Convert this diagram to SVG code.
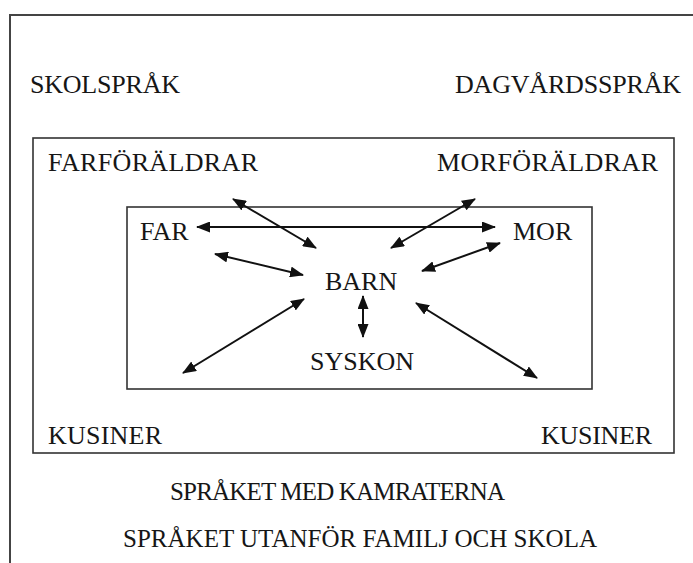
<svg xmlns="http://www.w3.org/2000/svg" width="693" height="563" viewBox="0 0 693 563">
<style>
text{font-family:"Liberation Serif","Times New Roman",serif;font-size:26px;fill:#161616}
.sm{font-size:25px}
.frame{fill:none;stroke:#444;stroke-width:2}
.box{fill:none;stroke:#333;stroke-width:1.6}
.arr{stroke:#111;stroke-width:2;fill:none;marker-start:url(#ah);marker-end:url(#ah)}
</style>
<defs>
<marker id="ah" viewBox="0 0 14 11" refX="13" refY="5.5" markerWidth="14" markerHeight="11" markerUnits="userSpaceOnUse" orient="auto-start-reverse">
<path d="M0,0 L14,5.5 L0,11 Z" fill="#111"/>
</marker>
</defs>
<rect width="693" height="563" fill="#fff"/>
<g id="frame">
<path class="frame" d="M10,563 V15 H693"/>
</g>
<g id="skolsprak"><text x="30" y="93" textLength="150">SKOLSPRÅK</text></g>
<g id="dagvardssprak"><text x="455" y="93" textLength="226">DAGVÅRDSSPRÅK</text></g>
<g id="family-box"><rect class="box" x="33" y="138" width="641" height="315"/></g>
<g id="farforaldrar"><text x="48" y="171" textLength="210">FARFÖRÄLDRAR</text></g>
<g id="morforaldrar"><text x="437" y="171" textLength="221">MORFÖRÄLDRAR</text></g>
<g id="core-box"><rect class="box" x="127" y="207" width="465" height="182"/></g>
<g id="far"><text x="140" y="240">FAR</text></g>
<g id="mor"><text x="513" y="240">MOR</text></g>
<g id="barn"><text x="325" y="290">BARN</text></g>
<g id="syskon"><text x="310" y="370">SYSKON</text></g>
<g id="kusiner-left"><text x="48" y="444" textLength="114">KUSINER</text></g>
<g id="kusiner-right"><text x="541" y="444" textLength="111">KUSINER</text></g>
<g id="kamrater"><text class="sm" x="170" y="500" textLength="335">SPRÅKET MED KAMRATERNA</text></g>
<g id="utanfor"><text class="sm" x="123" y="547" textLength="474">SPRÅKET UTANFÖR FAMILJ OCH SKOLA</text></g>
<g id="connectors">
<line class="arr" x1="197" y1="227" x2="495" y2="227"/>
<line class="arr" x1="233" y1="199" x2="316" y2="248"/>
<line class="arr" x1="475" y1="199" x2="391" y2="248"/>
<line class="arr" x1="215" y1="254" x2="303" y2="275"/>
<line class="arr" x1="500" y1="243" x2="422" y2="271"/>
<line class="arr" x1="363" y1="296" x2="363" y2="337"/>
<line class="arr" x1="304" y1="299" x2="183" y2="373"/>
<line class="arr" x1="416" y1="303" x2="537" y2="378"/>
</g>
</svg>
